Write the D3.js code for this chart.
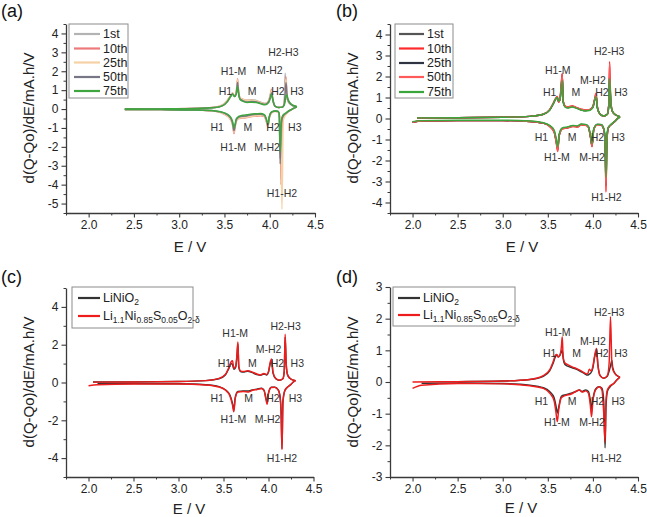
<!DOCTYPE html>
<html><head><meta charset="utf-8">
<script src="https://cdn.jsdelivr.net/npm/d3@7"></script>
<style>
html,body{margin:0;padding:0;background:#fff;}
svg{display:block;font-family:"Liberation Sans",Arial,Helvetica,sans-serif;}
</style></head>
<body>
<svg id="chart" width="647" height="517"></svg>
<script>
// ---------------- shared tick labels ----------------
const xTickVals = [2.0, 2.5, 3.0, 3.5, 4.0, 4.5];
const xTitle = "E / V";
const yTitle = "d(Q-Qo)/dE/mA.h/V";

// ---------------- panel (a) ----------------
const aNames = ["1st", "10th", "25th", "50th", "75th"];
const aChgE = [2.40,2.80,3.20,3.40,3.48,3.53,3.57,3.59,3.61,3.63,3.645,3.655,3.67,3.70,3.75,3.80,3.85,3.90,3.95,3.99,4.01,4.02,4.035,4.06,4.10,4.14,4.16,4.17,4.18,4.19,4.20,4.22,4.25,4.28,4.30];
const aChg1st  = [0.00,0.01,0.04,0.10,0.20,0.40,0.70,0.82,0.70,0.85,1.50,0.95,0.60,0.50,0.47,0.50,0.46,0.36,0.30,0.45,0.80,0.90,0.45,0.15,0.08,0.10,0.30,1.90,1.10,0.60,0.45,0.30,0.20,0.15,0.12];
const aChg10th = [0.00,0.01,0.04,0.10,0.22,0.45,0.72,0.85,0.72,0.88,1.60,1.00,0.62,0.52,0.45,0.45,0.42,0.33,0.28,0.45,0.85,1.05,0.50,0.15,0.08,0.10,0.25,1.20,1.70,0.70,0.45,0.30,0.20,0.15,0.12];
const aChg25th = [0.00,0.01,0.04,0.10,0.22,0.45,0.72,0.85,0.72,0.88,1.55,1.00,0.62,0.52,0.46,0.47,0.43,0.34,0.28,0.45,0.82,1.00,0.48,0.15,0.08,0.10,0.25,1.10,1.60,0.70,0.45,0.30,0.20,0.15,0.12];
const aChg50th = [0.00,0.01,0.03,0.08,0.18,0.38,0.68,0.80,0.66,0.80,1.40,0.90,0.55,0.45,0.38,0.40,0.38,0.30,0.25,0.40,0.70,0.85,0.45,0.14,0.08,0.10,0.25,0.80,1.40,0.80,0.50,0.32,0.20,0.15,0.12];
const aChg75th = [0.00,0.01,0.03,0.08,0.18,0.38,0.68,0.80,0.66,0.78,1.20,0.85,0.52,0.42,0.35,0.36,0.35,0.28,0.22,0.35,0.62,0.80,0.50,0.15,0.08,0.10,0.20,0.40,0.70,0.75,0.55,0.35,0.22,0.16,0.12];
const aDisE = [2.40,2.80,3.20,3.40,3.50,3.56,3.59,3.605,3.615,3.63,3.66,3.70,3.75,3.80,3.85,3.90,3.94,3.965,3.98,3.995,4.02,4.06,4.09,4.105,4.115,4.125,4.135,4.15,4.18,4.21,4.25,4.28,4.30];
const aDis1st  = [-0.02,-0.03,-0.05,-0.12,-0.25,-0.45,-0.75,-1.10,-0.95,-0.60,-0.45,-0.40,-0.38,-0.33,-0.32,-0.30,-0.35,-0.65,-0.90,-0.45,-0.18,-0.12,-0.15,-0.30,-2.60,-1.20,-0.60,-0.40,-0.25,-0.12,0.00,0.08,0.12];
const aDis10th = [-0.02,-0.03,-0.05,-0.12,-0.28,-0.50,-0.85,-1.30,-1.05,-0.65,-0.50,-0.48,-0.45,-0.40,-0.38,-0.35,-0.40,-0.70,-0.95,-0.50,-0.20,-0.12,-0.15,-0.30,-0.80,-4.00,-1.20,-0.45,-0.25,-0.12,0.00,0.08,0.12];
const aDis25th = [-0.02,-0.03,-0.05,-0.12,-0.28,-0.50,-0.85,-1.25,-1.00,-0.65,-0.50,-0.46,-0.44,-0.38,-0.36,-0.33,-0.38,-0.68,-0.92,-0.48,-0.20,-0.12,-0.15,-0.28,-0.70,-2.00,-5.30,-0.60,-0.28,-0.12,0.00,0.08,0.12];
const aDis50th = [-0.02,-0.03,-0.05,-0.10,-0.22,-0.42,-0.75,-1.15,-0.95,-0.58,-0.42,-0.38,-0.35,-0.30,-0.28,-0.27,-0.32,-0.60,-0.85,-0.42,-0.16,-0.10,-0.12,-0.25,-2.90,-1.00,-0.50,-0.35,-0.22,-0.10,0.00,0.08,0.12];
const aDis75th = [-0.02,-0.03,-0.05,-0.10,-0.20,-0.38,-0.65,-1.00,-0.85,-0.52,-0.38,-0.33,-0.30,-0.26,-0.25,-0.24,-0.30,-0.55,-0.80,-0.40,-0.15,-0.10,-0.12,-0.25,-2.30,-0.90,-0.45,-0.30,-0.20,-0.10,0.00,0.08,0.12];
const aColors = ["#b3b3b3", "#ec7a7a", "#f5d2a6", "#767684", "#3fa63f"];

// ---------------- panel (b) ----------------
const bNames = ["1st", "10th", "25th", "50th", "75th"];
const bChgE = [2.05,2.50,3.00,3.30,3.45,3.52,3.56,3.59,3.605,3.62,3.635,3.65,3.66,3.67,3.69,3.72,3.77,3.82,3.87,3.92,3.96,4.00,4.02,4.035,4.05,4.08,4.12,4.16,4.175,4.185,4.195,4.205,4.22,4.25,4.28,4.30];
const bChg1st  = [0.03,0.04,0.06,0.10,0.20,0.40,0.70,0.95,1.00,0.80,0.90,1.60,2.10,0.80,0.58,0.52,0.58,0.50,0.42,0.38,0.40,0.55,0.90,1.10,0.50,0.20,0.12,0.20,0.60,2.00,1.00,0.50,0.30,0.18,0.12,0.08];
const bChg10th = [0.03,0.04,0.06,0.10,0.20,0.42,0.72,0.98,1.05,0.78,0.95,1.70,2.15,0.85,0.60,0.55,0.60,0.52,0.44,0.40,0.42,0.58,0.95,1.20,0.55,0.20,0.12,0.20,0.60,2.70,1.20,0.55,0.30,0.18,0.12,0.08];
const bChg25th = [0.03,0.04,0.06,0.10,0.20,0.40,0.70,0.94,0.98,0.80,0.90,1.55,2.05,0.80,0.57,0.52,0.57,0.50,0.42,0.38,0.40,0.55,0.90,1.10,0.50,0.20,0.12,0.20,0.60,2.10,1.05,0.50,0.30,0.18,0.12,0.08];
const bChg50th = [0.03,0.04,0.06,0.10,0.20,0.42,0.72,0.97,1.03,0.78,0.94,1.65,2.12,0.84,0.60,0.54,0.60,0.52,0.44,0.40,0.42,0.57,0.94,1.18,0.55,0.20,0.12,0.20,0.60,2.60,1.15,0.55,0.30,0.18,0.12,0.08];
const bChg75th = [0.03,0.04,0.06,0.10,0.20,0.40,0.70,0.95,1.00,0.82,0.90,1.40,1.80,0.80,0.55,0.50,0.55,0.48,0.40,0.36,0.38,0.52,0.85,1.05,0.50,0.20,0.12,0.20,0.55,1.90,1.10,0.55,0.32,0.18,0.12,0.08];
const bDisE = [2.00,2.10,2.50,3.00,3.30,3.45,3.52,3.57,3.595,3.61,3.625,3.66,3.72,3.78,3.83,3.87,3.92,3.95,3.975,3.99,4.01,4.05,4.09,4.12,4.135,4.145,4.155,4.17,4.20,4.24,4.28,4.30];
const bDis1st  = [-0.18,-0.12,-0.10,-0.10,-0.14,-0.22,-0.35,-0.60,-1.10,-1.45,-0.80,-0.48,-0.42,-0.35,-0.38,-0.28,-0.30,-0.40,-0.90,-1.30,-0.50,-0.28,-0.30,-0.50,-1.00,-3.10,-1.00,-0.45,-0.30,-0.15,0.02,0.08];
const bDis10th = [-0.18,-0.12,-0.10,-0.10,-0.14,-0.22,-0.38,-0.65,-1.20,-1.57,-0.85,-0.50,-0.45,-0.38,-0.40,-0.30,-0.32,-0.42,-0.95,-1.35,-0.52,-0.30,-0.30,-0.50,-1.20,-3.50,-1.20,-0.45,-0.30,-0.15,0.02,0.08];
const bDis25th = [-0.18,-0.12,-0.10,-0.10,-0.14,-0.22,-0.36,-0.62,-1.12,-1.48,-0.82,-0.48,-0.43,-0.36,-0.38,-0.29,-0.31,-0.40,-0.92,-1.30,-0.50,-0.28,-0.30,-0.50,-1.05,-3.20,-1.05,-0.45,-0.30,-0.15,0.02,0.08];
const bDis50th = [-0.18,-0.12,-0.10,-0.10,-0.14,-0.22,-0.38,-0.64,-1.18,-1.55,-0.84,-0.50,-0.44,-0.37,-0.40,-0.30,-0.32,-0.42,-0.94,-1.33,-0.52,-0.30,-0.30,-0.50,-1.15,-3.40,-1.15,-0.45,-0.30,-0.15,0.02,0.08];
const bDis75th = [-0.15,-0.10,-0.08,-0.08,-0.12,-0.20,-0.33,-0.55,-1.00,-1.35,-0.75,-0.45,-0.40,-0.33,-0.35,-0.26,-0.28,-0.38,-0.85,-1.20,-0.48,-0.28,-0.28,-0.45,-0.90,-2.80,-0.90,-0.42,-0.28,-0.14,0.02,0.08];
const bColors = ["#555555", "#ff2a2a", "#2f3442", "#ff5a5a", "#3aa63a"];

// ---------------- panel (c) ----------------
const cNames = ["LiNiO2", "Li1.1Ni0.85S0.05O2-δ"];
const cChgE = [2.05,2.50,3.00,3.30,3.45,3.52,3.56,3.585,3.60,3.615,3.635,3.65,3.66,3.67,3.69,3.72,3.77,3.82,3.87,3.91,3.95,3.98,4.00,4.02,4.035,4.05,4.08,4.12,4.16,4.175,4.185,4.195,4.205,4.22,4.25,4.28,4.30];
const cChgLNO = [0.03,0.03,0.05,0.10,0.20,0.40,0.75,1.00,0.95,0.70,0.80,1.40,2.05,0.80,0.58,0.55,0.60,0.52,0.42,0.38,0.45,0.40,0.55,1.00,1.10,0.50,0.20,0.12,0.20,0.60,2.40,1.10,0.55,0.32,0.18,0.12,0.10];
const cChgLNSO = [0.02,0.03,0.05,0.10,0.22,0.42,0.80,1.10,1.15,0.75,0.85,1.50,2.15,0.85,0.60,0.58,0.62,0.55,0.45,0.40,0.48,0.42,0.58,1.10,1.25,0.55,0.22,0.12,0.20,0.60,2.55,1.20,0.55,0.32,0.18,0.12,0.10];
const cDisE = [2.00,2.10,2.50,3.00,3.30,3.45,3.52,3.57,3.60,3.615,3.63,3.66,3.72,3.78,3.83,3.87,3.92,3.95,3.97,3.985,4.00,4.03,4.07,4.11,4.13,4.14,4.15,4.16,4.18,4.21,4.25,4.28,4.30];
const cDisLNO = [null,-0.06,-0.06,-0.07,-0.12,-0.22,-0.38,-0.65,-1.10,-1.45,-0.80,-0.48,-0.45,-0.45,-0.38,-0.35,-0.30,-0.40,-0.80,-1.05,-0.55,-0.25,-0.25,-0.40,-0.80,-1.50,-3.50,-1.00,-0.45,-0.25,-0.10,0.05,0.10];
const cDisLNSO = [-0.17,-0.12,-0.08,-0.08,-0.13,-0.24,-0.40,-0.70,-1.20,-1.55,-0.85,-0.50,-0.48,-0.50,-0.40,-0.38,-0.32,-0.42,-0.85,-1.15,-0.58,-0.26,-0.25,-0.42,-0.85,-1.70,-3.55,-1.10,-0.45,-0.25,-0.10,0.05,0.10];
const cColors = ["#333333", "#ee1c1c"];

// ---------------- panel (d) ----------------
const dNames = ["LiNiO2", "Li1.1Ni0.85S0.05O2-δ"];
const dChgE = [2.00,2.50,3.00,3.30,3.45,3.52,3.56,3.585,3.60,3.615,3.635,3.65,3.66,3.67,3.69,3.72,3.77,3.82,3.87,3.91,3.94,3.96,3.98,4.00,4.02,4.04,4.055,4.08,4.12,4.16,4.18,4.195,4.21,4.22,4.25,4.28,4.30];
const dChgLNO = [null,0.01,0.03,0.08,0.18,0.35,0.60,0.80,0.85,0.80,0.85,0.95,1.00,0.75,0.55,0.50,0.45,0.40,0.32,0.26,0.22,0.25,0.30,0.45,0.80,1.00,0.55,0.20,0.12,0.18,0.35,0.50,0.68,0.45,0.25,0.18,0.15];
const dChgLNSO = [0.00,0.01,0.03,0.08,0.20,0.38,0.65,0.85,0.87,0.78,0.85,1.10,1.43,0.80,0.60,0.55,0.48,0.42,0.35,0.28,0.25,0.40,0.35,0.50,0.85,1.06,0.55,0.20,0.12,0.20,0.60,2.06,0.60,0.40,0.25,0.18,0.15];
const dDisE = [2.00,2.10,2.50,3.00,3.30,3.45,3.52,3.57,3.59,3.605,3.62,3.65,3.70,3.76,3.81,3.85,3.88,3.92,3.95,3.97,3.985,4.00,4.03,4.07,4.10,4.12,4.135,4.145,4.16,4.19,4.23,4.27,4.30];
const dDisLNO = [null,-0.04,-0.03,-0.05,-0.10,-0.18,-0.30,-0.50,-0.75,-0.98,-0.80,-0.45,-0.40,-0.35,-0.30,-0.25,-0.30,-0.25,-0.30,-0.55,-0.85,-0.55,-0.22,-0.15,-0.20,-0.60,-2.08,-0.80,-0.30,-0.15,-0.05,0.08,0.15];
const dDisLNSO = [-0.20,-0.10,-0.05,-0.06,-0.12,-0.20,-0.35,-0.60,-0.95,-1.25,-0.90,-0.50,-0.42,-0.38,-0.30,-0.25,-0.32,-0.28,-0.35,-0.70,-1.10,-0.60,-0.25,-0.15,-0.25,-1.00,-1.90,-0.60,-0.25,-0.12,-0.05,0.08,0.15];
const dColors = ["#333333", "#ee1c1c"];

// ---------------- peak annotations: [text, E, value] ----------------
const aNotes = [["H2-H3",4.15,3.02],["H1-M",3.60,2.0],["M-H2",4.0,2.06],["H1",3.51,0.95],["M",3.805,0.95],["H2",4.09,0.95],["H3",4.30,0.95],
  ["H1",3.42,-0.95],["M",3.76,-0.95],["H2",4.036,-0.95],["H3",4.277,-0.95],["H1-M",3.596,-2.0],["M-H2",3.97,-2.0],["H1-H2",4.135,-4.44]];
const bNotes = [["H2-H3",4.18,3.23],["H1-M",3.61,2.31],["M-H2",4.0,1.83],["H1",3.52,1.28],["M",3.81,1.28],["H2",4.10,1.28],["H3",4.31,1.28],
  ["H1",3.43,-0.87],["M",3.77,-0.87],["H2",4.05,-0.87],["H3",4.28,-0.87],["H1-M",3.60,-1.82],["M-H2",3.99,-1.82],["H1-H2",4.15,-3.73]];
const cNotes = [["H2-H3",4.19,2.99],["H1-M",3.63,2.6],["M-H2",4.0,1.76],["H1",3.51,1.02],["M",3.82,1.02],["H2",4.10,1.02],["H3",4.32,1.02],
  ["H1",3.43,-0.84],["M",3.78,-0.84],["H2",4.05,-0.84],["H3",4.30,-0.84],["H1-M",3.61,-1.93],["M-H2",3.99,-1.93],["H1-H2",4.15,-3.98]];
const dNotes = [["H2-H3",4.18,2.2],["H1-M",3.61,1.57],["M-H2",4.0,1.29],["H1",3.52,0.91],["M",3.82,0.91],["H2",4.10,0.91],["H3",4.31,0.91],
  ["H1",3.43,-0.6],["M",3.77,-0.6],["H2",4.05,-0.6],["H3",4.28,-0.6],["H1-M",3.60,-1.25],["M-H2",3.99,-1.25],["H1-H2",4.15,-2.41]];

// ---------------- drawing ----------------
const svg = d3.select("#chart");
const FONT = '"Liberation Sans",Arial,Helvetica,sans-serif';
const AX = "#3a3a3a";

function zipPts(E, V){ return E.map((e,i)=>[e, V[i]]); }

function legendLabel(sel, name, x, y){
  const t = sel.append("text").attr("x", x).attr("y", y).attr("font-size", 12.5)
    .attr("fill", "#222").attr("dominant-baseline", "central");
  if (name === "LiNiO2") {
    t.append("tspan").text("LiNiO");
    t.append("tspan").text("2").attr("font-size", 8.5).attr("dy", 4);
  } else if (name.startsWith("Li1.1")) {
    const parts = [["Li",false],["1.1",true],["Ni",false],["0.85",true],["S",false],["0.05",true],["O",false],["2-δ",true]];
    let sub = false;
    parts.forEach(([s,isSub])=>{
      const ts = t.append("tspan").text(s);
      if (isSub && !sub) { ts.attr("font-size", 8.5).attr("dy", 4); sub = true; }
      else if (isSub) { ts.attr("font-size", 8.5); }
      else if (!isSub && sub) { ts.attr("dy", -4); sub = false; }
    });
  } else {
    t.text(name);
  }
}

function drawPanel(p){
  const g = svg.append("g");
  const x = d3.scaleLinear().domain([1.75, 4.5]).range([p.left, p.right]);
  const y = d3.scaleLinear().domain(p.yDomain).range([p.bottom, p.top]);

  // minor ticks
  const xMinor = d3.range(1.75, 4.5001, 0.25).filter(v => Math.abs(v*2 - Math.round(v*2)) > 1e-6);
  g.append("g").attr("transform", `translate(0,${p.bottom})`)
    .call(d3.axisBottom(x).tickValues(xMinor).tickSize(2.5).tickFormat(""))
    .call(s => { s.select(".domain").remove(); s.selectAll("line").attr("stroke", AX); });
  const yMinor = d3.range(p.yDomain[0], p.yDomain[1] + 1e-6, p.yMinorStep)
    .filter(v => Math.abs(v/p.yMajorStep - Math.round(v/p.yMajorStep)) > 1e-6);
  g.append("g").attr("transform", `translate(${p.left},0)`)
    .call(d3.axisLeft(y).tickValues(yMinor).tickSize(2.5).tickFormat(""))
    .call(s => { s.select(".domain").remove(); s.selectAll("line").attr("stroke", AX); });

  // major axes
  g.append("g").attr("transform", `translate(0,${p.bottom})`)
    .call(d3.axisBottom(x).tickValues(xTickVals).tickSize(4.5).tickSizeOuter(0).tickPadding(3).tickFormat(d3.format(".1f")))
    .call(s => {
      s.select(".domain").attr("stroke", AX).attr("stroke-width", 1.3);
      s.selectAll("line").attr("stroke", AX).attr("stroke-width", 1.1);
      s.selectAll("text").attr("font-family", FONT).attr("font-size", 12).attr("fill", "#222");
    });
  g.append("g").attr("transform", `translate(${p.left},0)`)
    .call(d3.axisLeft(y).tickValues(p.yTicks).tickSize(4.5).tickSizeOuter(0).tickPadding(3).tickFormat(d => String(d)))
    .call(s => {
      s.select(".domain").attr("stroke", AX).attr("stroke-width", 1.3);
      s.selectAll("line").attr("stroke", AX).attr("stroke-width", 1.1);
      s.selectAll("text").attr("font-family", FONT).attr("font-size", 12).attr("fill", "#222");
    });

  // curves
  const line = d3.line().defined(d => d[1] !== null)
    .x(d => x(d[0])).y(d => y(d[1])).curve(d3.curveMonotoneX);
  const curves = g.append("g");
  p.series.forEach(s => {
    curves.append("path").datum(zipPts(s.chgE, s.chg)).attr("d", line)
      .attr("fill", "none").attr("stroke", s.color).attr("stroke-width", 1.45)
      .attr("stroke-linejoin", "round");
    curves.append("path").datum(zipPts(s.disE, s.dis)).attr("d", line)
      .attr("fill", "none").attr("stroke", s.color).attr("stroke-width", 1.45)
      .attr("stroke-linejoin", "round");
  });

  // annotations
  g.append("g").selectAll("text").data(p.notes).join("text")
    .attr("x", d => x(d[1])).attr("y", d => y(d[2]))
    .attr("text-anchor", "middle").attr("dominant-baseline", "central")
    .attr("font-size", 10.5).attr("fill", "#333").text(d => d[0]);

  // legend
  const L = p.legend;
  const lg = g.append("g");
  lg.append("rect").attr("x", L.x).attr("y", L.y).attr("width", L.w).attr("height", L.h)
    .attr("fill", "#fff").attr("stroke", "#8c8c8c").attr("stroke-width", 1);
  p.series.forEach((s, i) => {
    const yy = L.rows[i];
    lg.append("line").attr("x1", L.lx1).attr("x2", L.lx2).attr("y1", yy).attr("y2", yy)
      .attr("stroke", s.color).attr("stroke-width", 2.2);
    legendLabel(lg, s.name, L.tx, yy);
  });

  // titles
  g.append("text").attr("x", p.xTitleX).attr("y", p.xTitleY).attr("text-anchor", "middle")
    .attr("font-size", 15).attr("fill", "#222").text(xTitle);
  g.append("text").attr("transform", `translate(${p.yTitleX},${p.yTitleY}) rotate(-90)`)
    .attr("text-anchor", "middle").attr("font-size", 15).attr("fill", "#222").text(yTitle);
  g.append("text").attr("x", p.tagX).attr("y", p.tagY).attr("font-size", 18).attr("fill", "#111").text(p.tag);
}

function mkSeries(names, chgE, chgs, disE, diss, colors){
  return names.map((n, i) => ({ name: n, chgE: chgE, chg: chgs[i], disE: disE, dis: diss[i], color: colors[i] }));
}

drawPanel({
  tag: "(a)", tagX: 1, tagY: 17,
  left: 66, right: 315, top: 24, bottom: 213,
  yDomain: [-5.5, 4.5], yTicks: d3.range(-5, 5, 1), yMajorStep: 1, yMinorStep: 0.5,
  series: mkSeries(aNames, aChgE, [aChg1st,aChg10th,aChg25th,aChg50th,aChg75th], aDisE, [aDis1st,aDis10th,aDis25th,aDis50th,aDis75th], aColors),
  notes: aNotes,
  legend: { x: 69, y: 24, w: 59, h: 74, lx1: 74, lx2: 100, tx: 103, rows: [34, 48.5, 62.5, 77, 91] },
  xTitleX: 190, xTitleY: 252, yTitleX: 34, yTitleY: 118
});
drawPanel({
  tag: "(b)", tagX: 336, tagY: 17,
  left: 390, right: 638, top: 24, bottom: 213,
  yDomain: [-4.5, 4.5], yTicks: d3.range(-4, 5, 1), yMajorStep: 1, yMinorStep: 0.5,
  series: mkSeries(bNames, bChgE, [bChg1st,bChg10th,bChg25th,bChg50th,bChg75th], bDisE, [bDis1st,bDis10th,bDis25th,bDis50th,bDis75th], bColors),
  notes: bNotes,
  legend: { x: 395, y: 24, w: 58, h: 74, lx1: 399, lx2: 424, tx: 427, rows: [34, 48.5, 63, 77, 92] },
  xTitleX: 522, xTitleY: 252, yTitleX: 358, yTitleY: 118
});
drawPanel({
  tag: "(c)", tagX: 1, tagY: 283,
  left: 66, right: 313.5, top: 288, bottom: 477,
  yDomain: [-5, 5], yTicks: [-4, -2, 0, 2, 4], yMajorStep: 2, yMinorStep: 1,
  series: mkSeries(cNames, cChgE, [cChgLNO, cChgLNSO], cDisE, [cDisLNO, cDisLNSO], cColors),
  notes: cNotes,
  legend: { x: 72, y: 287, w: 121, h: 41, lx1: 78, lx2: 100, tx: 103, rows: [298, 316] },
  xTitleX: 189, xTitleY: 514, yTitleX: 34, yTitleY: 382
});
drawPanel({
  tag: "(d)", tagX: 336, tagY: 283,
  left: 390, right: 638, top: 287, bottom: 477,
  yDomain: [-3, 3], yTicks: d3.range(-3, 4, 1), yMajorStep: 1, yMinorStep: 0.5,
  series: mkSeries(dNames, dChgE, [dChgLNO, dChgLNSO], dDisE, [dDisLNO, dDisLNSO], dColors),
  notes: dNotes,
  legend: { x: 393, y: 287, w: 122, h: 39, lx1: 398, lx2: 420, tx: 423, rows: [298, 315] },
  xTitleX: 521, xTitleY: 513, yTitleX: 358, yTitleY: 382
});
</script>
</body></html>
